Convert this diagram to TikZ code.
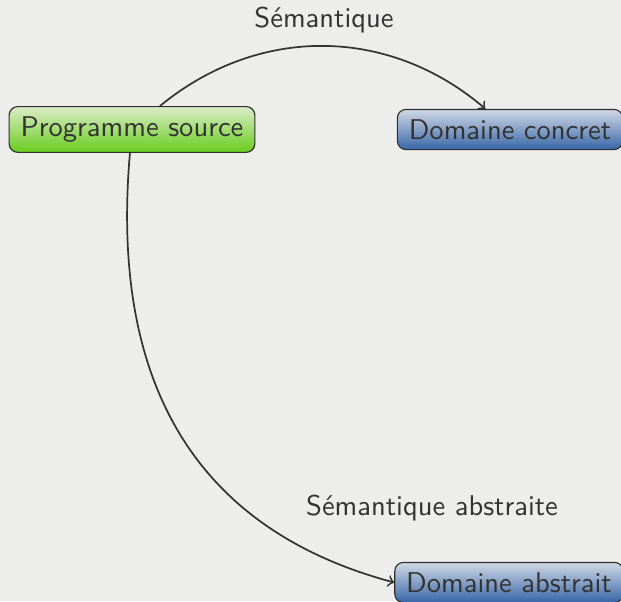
\documentclass[tikz,border=0pt]{standalone}
\usepackage{tikz}
\renewcommand{\familydefault}{\sfdefault}

\definecolor{fondgris}{RGB}{237,237,236}
\definecolor{texte}{RGB}{51,51,51}
\definecolor{vertclair}{RGB}{218,236,200}
\definecolor{vertfonce}{RGB}{104,204,28}
\definecolor{bleuclair}{RGB}{208,216,228}
\definecolor{bleufonce}{RGB}{56,102,168}

\tikzset{
  boite/.style={draw=texte!90!black, rounded corners=3pt, inner xsep=4pt, inner ysep=3.5pt, text=texte},
  source/.style={boite, top color=vertclair, bottom color=vertfonce},
  domaine/.style={boite, top color=bleuclair, bottom color=bleufonce},
  fleche/.style={->, draw=texte, line width=0.6pt}
}

\begin{document}
\begin{tikzpicture}[x=0.35pt, y=0.35pt]
\fill[fondgris] (0,0) rectangle (621,601);
\useasboundingbox (0,0) rectangle (621,601);
\node[source] (prog) at (132,471.5) {Programme source};
\node[domaine] (concret) at (510,471.5) {Domaine concret};
\node[domaine] (abstrait) at (509,18.5) {Domaine abstrait};
\node[text=texte] (sem) at (324,581) {Sémantique};
\node[text=texte] (semabs) at (432,93) {Sémantique abstraite};
\draw[fleche] (prog) to[bend left=40] (concret);
\draw[fleche] (prog) to[out=-95, in=165, looseness=1.1] (abstrait.west);
\end{tikzpicture}
\end{document}
